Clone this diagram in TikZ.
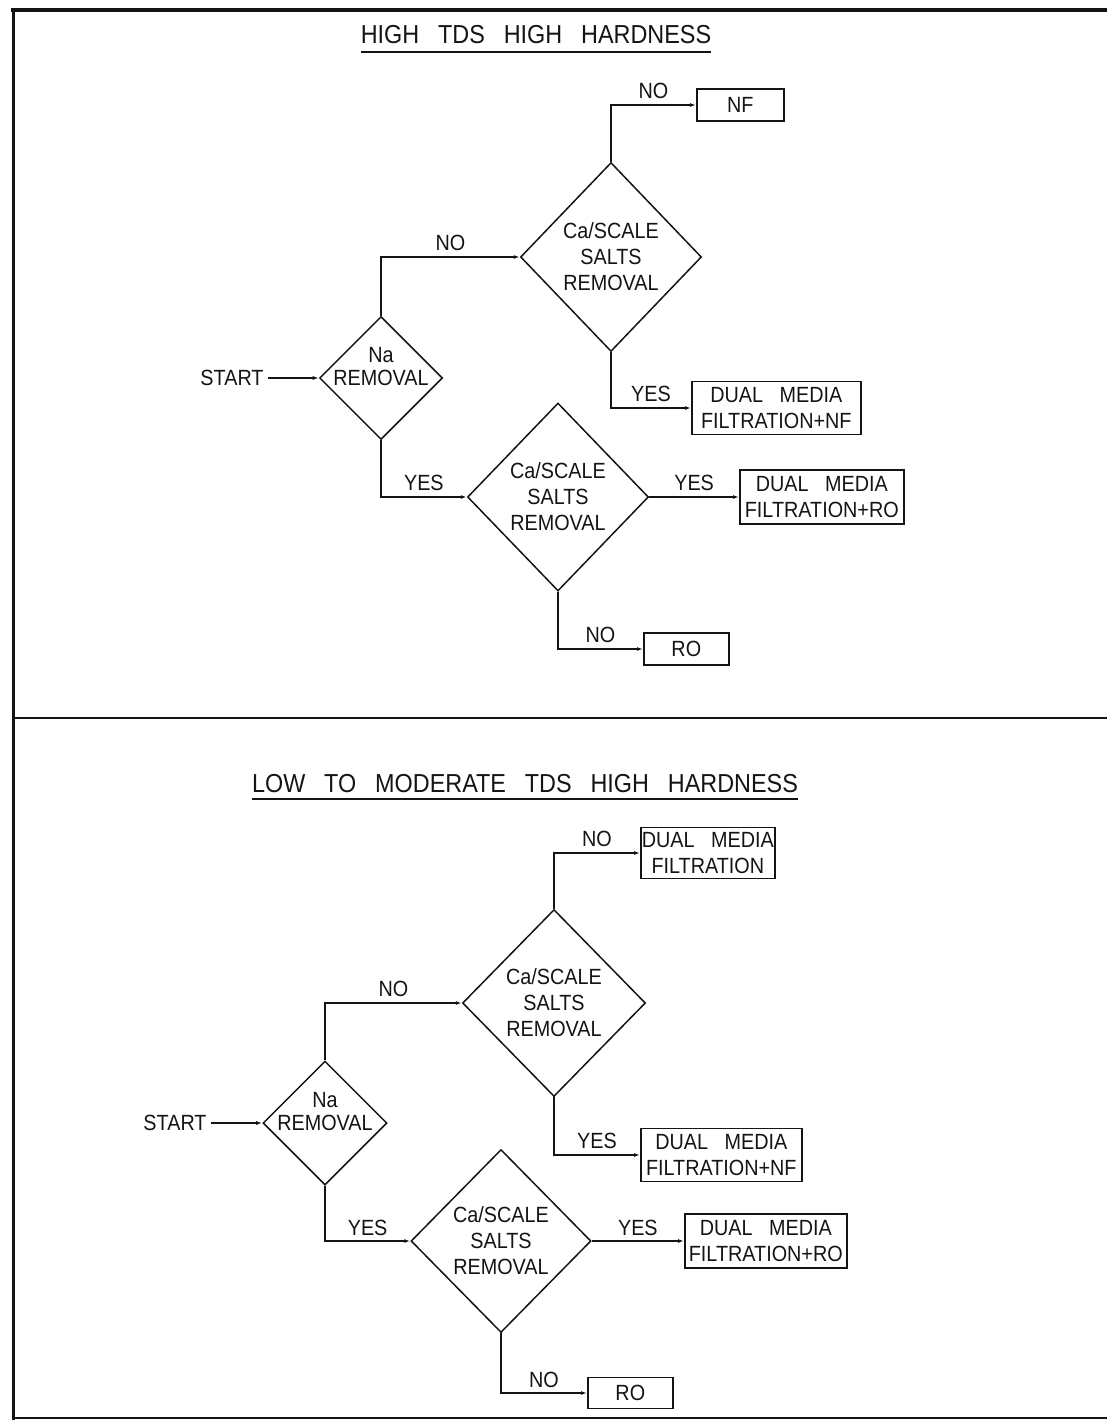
\documentclass[tikz,border=0pt]{standalone}
\usepackage{fontspec}
\setmainfont[FakeStretch=0.9,WordSpace=3]{Liberation Sans}
\newfontfamily\wtTitleFont[FakeStretch=0.9,WordSpace=2.9]{Liberation Sans}
\usepackage{tikz}
\usetikzlibrary{
    arrows.meta,
    positioning,
    calc,
    shapes.geometric
}
\definecolor{wtInk}{HTML}{141414}
\newcommand{\wtText}{\fontsize{22}{26}\selectfont}
\newcommand{\wtNaText}{\fontsize{22}{23}\selectfont}
\tikzset{
    wtDecision/.style={
        draw=wtInk,
        diamond,
        inner sep=0pt,
        line width=1.5pt
    },
    wtInside/.style={
        text=wtInk,
        align=center,
        inner sep=0pt,
        font=\wtText
    },
    wtBox/.style={
        draw=wtInk,
        rectangle,
        align=center,
        inner sep=1pt,
        line width=1.6pt,
        text=wtInk,
        font=\wtText,
        anchor=west
    },
    wtStart/.style={text=wtInk,font=\wtText,inner sep=4pt},
    wtLabel/.style={text=wtInk,font=\wtText,inner sep=5pt,above},
    wtTitle/.style={text=wtInk,font=\wtTitleFont\fontsize{26}{30}\selectfont,inner sep=0pt,anchor=base},
    wtArrow/.style={-{Latex[length=6pt,width=4pt]},line width=1.6pt,draw=wtInk},
    wtFrame/.style={draw=wtInk,line cap=rect}
}

\begin{document}
\begin{tikzpicture}[x=1pt,y=-1pt]
        \useasboundingbox (0,0) rectangle (1107,1421);

        % frame
        \draw[wtFrame,line width=4pt] (13,10) -- (1107,10);
        \draw[wtFrame,line width=3pt] (13,10) -- (13,1418);
        \draw[wtFrame,line width=2pt] (13,718) -- (1107,718);
        \draw[wtFrame,line width=2pt] (13,1418) -- (1107,1418);

        % high TDS
        \node[wtTitle] (title1) at (536,44) {HIGH TDS HIGH HARDNESS};
        \draw[line width=1.4pt,draw=wtInk] ([yshift=-8pt]title1.base west) -- ([yshift=-8pt]title1.base east);

        \node[wtStart] (start1) at (232,378) {START};
        \node[wtDecision,minimum width=123pt,minimum height=123pt,
            label={[wtInside,font=\wtNaText,name=na1txt,yshift=11.5pt]center:{Na\\REMOVAL}}] (na1) at (381,378) {};
        \node[wtDecision,minimum width=181pt,minimum height=189pt,
            label={[wtInside,name=ca1txt]center:{Ca/SCALE\\SALTS\\REMOVAL}}] (ca1) at (611,257) {};
        \node[wtDecision,minimum width=181pt,minimum height=188pt,
            label={[wtInside,name=ca2txt]center:{Ca/SCALE\\SALTS\\REMOVAL}}] (ca2) at (558,497) {};

        \node[wtBox,minimum width=87pt,minimum height=32pt] (nf1) at (696,105) {NF};
        \node[wtBox,minimum width=169pt,minimum height=53pt] (dmnf1) at (691,408) {DUAL MEDIA\\FILTRATION+NF};
        \node[wtBox,minimum width=164pt,minimum height=54pt] (dmro1) at (739,497) {DUAL MEDIA\\FILTRATION+RO};
        \node[wtBox,minimum width=85pt,minimum height=32pt] (ro1) at (643,649) {RO};

        \draw[wtArrow] (start1) -- (na1);
        \draw[wtArrow] (na1.north) |- node[wtLabel,pos=0.75] (no1) {NO} (ca1.west);
        \draw[wtArrow] (ca1.north) |- node[wtLabel,pos=0.75] (no2) {NO} (nf1.west);
        \draw[wtArrow] (ca1.south) |- node[wtLabel,pos=0.75] (yes1) {YES} (dmnf1.west);
        \draw[wtArrow] (na1.south) |- node[wtLabel,pos=0.75] (yes2) {YES} (ca2.west);
        \draw[wtArrow] (ca2.east) -- node[wtLabel] (yes3) {YES} (dmro1.west);
        \draw[wtArrow] (ca2.south) |- node[wtLabel,pos=0.75] (no3) {NO} (ro1.west);

        % low to moderate TDS
        \node[wtTitle] (title2) at (525,792) {LOW TO MODERATE TDS HIGH HARDNESS};
        \draw[line width=1.4pt,draw=wtInk] ([yshift=-7pt]title2.base west) -- ([yshift=-7pt]title2.base east);

        \node[wtStart] (start2) at (175,1123) {START};
        \node[wtDecision,minimum width=124pt,minimum height=124pt,
            label={[wtInside,font=\wtNaText,name=na2txt,yshift=11.5pt]center:{Na\\REMOVAL}}] (na2) at (325,1123) {};
        \node[wtDecision,minimum width=183pt,minimum height=187pt,
            label={[wtInside,name=ca3txt]center:{Ca/SCALE\\SALTS\\REMOVAL}}] (ca3) at (554,1003) {};
        \node[wtDecision,minimum width=180pt,minimum height=183pt,
            label={[wtInside,name=ca4txt]center:{Ca/SCALE\\SALTS\\REMOVAL}}] (ca4) at (501,1241) {};

        \node[wtBox,minimum width=131pt,minimum height=51pt] (dm2) at (640,853) {DUAL MEDIA\\FILTRATION};
        \node[wtBox,minimum width=161pt,minimum height=53pt] (dmnf2) at (640,1155) {DUAL MEDIA\\FILTRATION+NF};
        \node[wtBox,minimum width=162pt,minimum height=54pt] (dmro2) at (684,1241) {DUAL MEDIA\\FILTRATION+RO};
        \node[wtBox,minimum width=85pt,minimum height=31pt] (ro2) at (587,1393) {RO};

        \draw[wtArrow] (start2) -- (na2);
        \draw[wtArrow] (na2.north) |- node[wtLabel,pos=0.75] (no4) {NO} (ca3.west);
        \draw[wtArrow] (ca3.north) |- node[wtLabel,pos=0.75] (no5) {NO} (dm2.west);
        \draw[wtArrow] (ca3.south) |- node[wtLabel,pos=0.75] (yes4) {YES} (dmnf2.west);
        \draw[wtArrow] (na2.south) |- node[wtLabel,pos=0.75] (yes5) {YES} (ca4.west);
        \draw[wtArrow] (ca4.east) -- node[wtLabel] (yes6) {YES} (dmro2.west);
        \draw[wtArrow] (ca4.south) |- node[wtLabel,pos=0.75] (no6) {NO} (ro2.west);
    \end{tikzpicture}
\end{document}
